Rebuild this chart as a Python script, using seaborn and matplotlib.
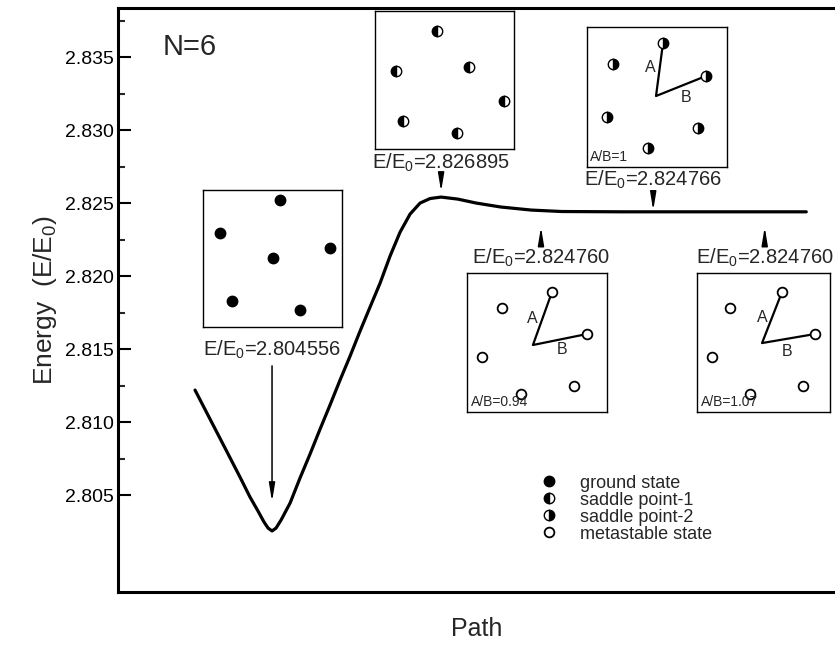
import matplotlib
matplotlib.use("Agg")
import matplotlib.pyplot as plt
import seaborn as sns
import pandas as pd
from matplotlib.lines import Line2D

# Energy along the transition path (path coordinate in arbitrary units)
path = [0, 2.45, 4.91, 7.36, 9.0, 10.31, 11.29, 11.95, 12.6, 13.26, 14.08,
        15.55, 17.18, 18.82, 20.46, 22.09, 23.73, 25.37, 27.0, 28.64, 30.28,
        31.91, 33.55, 35.19, 36.82, 38.46, 40.26, 43, 46, 50, 55, 60, 70,
        80, 90, 100]
energy = [2.81219, 2.81021, 2.80822, 2.80623, 2.80486, 2.80390, 2.80315,
          2.80274, 2.80254, 2.80274, 2.80329, 2.80445, 2.80617, 2.80781,
          2.80952, 2.81117, 2.81288, 2.81452, 2.81623, 2.81788, 2.81952,
          2.82137, 2.82301, 2.82425, 2.82500, 2.82531, 2.82541, 2.82527,
          2.82500, 2.82473, 2.82452, 2.82442, 2.82440, 2.82440, 2.82440,
          2.82440]

y_ticks = [2.805, 2.810, 2.815, 2.820, 2.825, 2.830, 2.835]

# Particle configurations shown in the insets (box-relative coordinates)
ground_x = [0.554, 0.122, 0.914, 0.504, 0.209, 0.698]
ground_y = [0.927, 0.686, 0.577, 0.504, 0.190, 0.124]
saddle1_x = [0.446, 0.151, 0.676, 0.928, 0.201, 0.590]
saddle1_y = [0.855, 0.565, 0.594, 0.348, 0.203, 0.116]
saddle2_x = [0.543, 0.186, 0.850, 0.143, 0.793, 0.436]
saddle2_y = [0.886, 0.736, 0.650, 0.357, 0.279, 0.136]
saddle2_center = (0.493, 0.507)
meta1_x = [0.607, 0.250, 0.857, 0.107, 0.764, 0.386]
meta1_y = [0.863, 0.748, 0.561, 0.396, 0.187, 0.129]
meta1_center = (0.471, 0.482)
meta2_x = [0.639, 0.248, 0.887, 0.113, 0.797, 0.398]
meta2_y = [0.863, 0.748, 0.561, 0.396, 0.187, 0.129]
meta2_center = (0.489, 0.496)

# Labelled states: energy value, path position, energy of the text line
state_values = ["2.804556", "2.826895", "2.824766", "2.824760", "2.824760"]
state_path = [12.6, 40.26, 74.96, 56.6, 93.2]
state_text_e = [2.81493, 2.82774, 2.82658, 2.82123, 2.82123]
ratio_labels = ["A/B=1", "A/B=0.94", "A/B=1.07"]

legend_labels = ["ground state", "saddle point-1", "saddle point-2",
                 "metastable state"]

sns.set_theme(style="ticks")
plt.rcParams["font.family"] = ["Liberation Sans", "DejaVu Sans"]
plt.rcParams["mathtext.fontset"] = "custom"
plt.rcParams["mathtext.rm"] = "Liberation Sans"
plt.rcParams["mathtext.it"] = "Liberation Sans:italic"

W, H = 835, 645
fig = plt.figure(figsize=(W / 100, H / 100), dpi=100)
ax = fig.add_axes([118 / W, 1 - 592 / H, 717 / W, 584 / H])

df = pd.DataFrame({"path": path, "energy": energy})
sns.lineplot(data=df, x="path", y="energy", ax=ax, color="black", lw=2.3,
             sort=False, estimator=None)

ax.set_xlim(-12.6, 104.7)
ax.set_ylim(2.79836, 2.83836)
ax.set_xticks([])
ax.set_yticks(y_ticks)
ax.set_yticks([t + 0.0025 for t in y_ticks], minor=True)
ax.set_yticklabels([f"{t:.3f}" for t in y_ticks], fontsize=14)
ax.tick_params(axis="y", which="major", direction="in", length=9, width=1.5,
               pad=3, colors="black")
ax.tick_params(axis="y", which="minor", direction="in", length=5, width=1.5)
for side in ["left", "bottom", "top"]:
    ax.spines[side].set_linewidth(2.2)
    ax.spines[side].set_color("black")
ax.spines["right"].set_visible(False)

ax.set_xlabel("Path", fontsize=18, labelpad=18)
ax.set_ylabel("Energy  (E/E$_0$)", fontsize=19, labelpad=4)
ax.text(0.100, 0.933, "N=6", transform=ax.transAxes, fontsize=21,
        ha="center", va="center")

# Arrows from each label: the ground state points at its own energy,
# the others at the curve (peak and plateau)
plateau = energy[-1]
arrow_targets = [float(state_values[0]), max(energy), plateau, plateau, plateau]
shrink_b = [0, 4, 1, 11, 11]
for val, s, te, tgt, sb in zip(state_values, state_path, state_text_e,
                               arrow_targets, shrink_b):
    ax.annotate(f"E/E$_0$={val}", xy=(s, tgt), xytext=(s, te),
                fontsize=14.5, ha="center", va="center",
                arrowprops=dict(arrowstyle="-|>,head_length=0.9,head_width=0.15",
                                color="black", lw=1.1, shrinkA=1, shrinkB=sb,
                                mutation_scale=12))

# Insets with the particle configurations
def inset(box):
    x0, y0, x1, y1 = box
    a = fig.add_axes([x0 / W, 1 - y1 / H, (x1 - x0) / W, (y1 - y0) / H])
    a.set_xlim(0, 1)
    a.set_ylim(0, 1)
    a.set_xticks([])
    a.set_yticks([])
    a.set_facecolor("white")
    for sp in a.spines.values():
        sp.set_linewidth(1.0)
        sp.set_color("black")
    return a

ms = 7.5
ground_style = dict(marker="o", ls="none", ms=ms, color="black")
s1_style = dict(marker="o", ls="none", ms=ms, fillstyle="left",
                markerfacecolor="black", markerfacecoloralt="white",
                markeredgecolor="black", mew=1.0)
s2_style = dict(marker="o", ls="none", ms=ms, fillstyle="right",
                markerfacecolor="black", markerfacecoloralt="white",
                markeredgecolor="black", mew=1.0)
meta_style = dict(marker="o", ls="none", ms=7, markerfacecolor="white",
                  markeredgecolor="black", mew=1.3)

a1 = inset((203, 190, 342, 327))
a1.plot(ground_x, ground_y, **ground_style)

a2 = inset((375, 11, 514, 149))
a2.plot(saddle1_x, saddle1_y, **s1_style)

def arms(a, xs, ys, c, lab_a, lab_b):
    a.plot([xs[0], c[0], xs[2]], [ys[0], c[1], ys[2]], color="black",
           lw=1.6, zorder=1)
    a.text(*lab_a, "A", fontsize=11.5, ha="center", va="center")
    a.text(*lab_b, "B", fontsize=11.5, ha="center", va="center")

a3 = inset((587, 27, 727, 167))
arms(a3, saddle2_x, saddle2_y, saddle2_center, (0.45, 0.714), (0.707, 0.50))
a3.plot(saddle2_x, saddle2_y, zorder=3, **s2_style)
a3.text(0.02, 0.02, ratio_labels[0], fontsize=10, ha="left", va="bottom")

a4 = inset((467, 273, 607, 412))
arms(a4, meta1_x, meta1_y, meta1_center, (0.464, 0.676), (0.679, 0.453))
a4.plot(meta1_x, meta1_y, zorder=3, **meta_style)
a4.text(0.03, 0.02, ratio_labels[1], fontsize=10, ha="left", va="bottom")

a5 = inset((697, 273, 830, 412))
arms(a5, meta2_x, meta2_y, meta2_center, (0.489, 0.683), (0.677, 0.432))
a5.plot(meta2_x, meta2_y, zorder=3, **meta_style)
a5.text(0.03, 0.02, ratio_labels[2], fontsize=10, ha="left", va="bottom")

handles = [Line2D([], [], **ground_style), Line2D([], [], **s1_style),
           Line2D([], [], **s2_style), Line2D([], [], **meta_style)]
ax.legend(handles, legend_labels, loc="upper left",
          bbox_to_anchor=(0.591, 0.201), frameon=False, fontsize=13,
          handlelength=0.8, handletextpad=1.3, labelspacing=0.0,
          borderpad=0, borderaxespad=0)

fig.savefig("out.png", dpi=100)
